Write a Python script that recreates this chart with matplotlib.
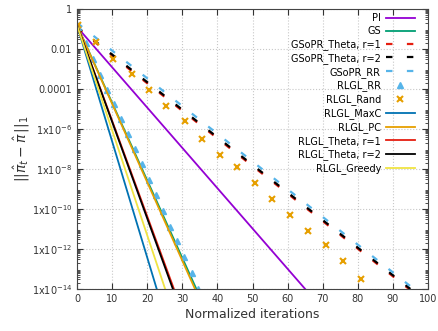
import numpy as np
import matplotlib.pyplot as plt
from matplotlib.ticker import FixedLocator, LogLocator, NullFormatter

# straight lines in log space: (start, end)
pi_x, pi_y = [0, 65], [0.125, 1e-14]
gs_x, gs_y = [0, 34.0], [0.15, 1e-14]
gsopr_t1_x, gsopr_t1_y = [0, 94.6], [0.11, 1e-14]
gsopr_t2_x, gsopr_t2_y = [0, 95.0], [0.125, 1e-14]
gsopr_rr_x, gsopr_rr_y = [0, 96.0], [0.2, 1e-14]
maxc_x, maxc_y = [0, 22.7], [0.15, 1e-14]
pc_x, pc_y = [0, 33.6], [0.15, 1e-14]
theta1_x, theta1_y = [0, 27.6], [0.15, 1e-14]
theta2_x, theta2_y = [0, 27.3], [0.15, 1e-14]
greedy_x, greedy_y = [0, 25.1], [0.15, 1e-14]

# marker series
rr_x = [0.3, 2.4, 4.5, 6.5, 8.5, 10.4, 12.5, 14.5, 16.6, 18.5, 20.5, 22.5,
        24.6, 26.5, 28.6, 30.6, 32.7, 34.6]
rr_log = [-0.9, -1.7, -2.5, -3.3, -4.05, -4.75, -5.5, -6.26, -7.0, -7.77,
          -8.57, -9.3, -10.1, -10.9, -11.6, -12.4, -13.2, -14.0]
rand_x = [0.3, 5.4, 10.3, 15.6, 20.5, 25.4, 30.8, 35.7, 40.7, 45.7, 50.6,
          55.6, 60.7, 65.9, 70.9, 75.9, 81.0]
rand_log = [-0.8, -1.67, -2.5, -3.25, -4.05, -4.85, -5.6, -6.5, -7.3, -7.9,
            -8.7, -9.5, -10.3, -11.1, -11.8, -12.6, -13.5]

ytick_vals = [1, 1e-2, 1e-4, 1e-6, 1e-8, 1e-10, 1e-12, 1e-14]
ytick_labels = ['1', '0.01', '0.0001', r'1x10$^{-6}$', r'1x10$^{-8}$',
                r'1x10$^{-10}$', r'1x10$^{-12}$', r'1x10$^{-14}$']

fig = plt.figure(figsize=(4.38, 3.31), dpi=100)
ax = fig.add_axes([0.176, 0.127, 0.801, 0.846])

dash = (0, (2.9, 6.5))
lw = 1.3
ax.plot(pi_x, pi_y, color='#9400d3', lw=lw, label='PI')
ax.plot(gs_x, gs_y, color='#009e73', lw=lw, label='GS')
ax.plot(gsopr_t1_x, gsopr_t1_y, color='#e51e10', lw=1.6, ls=dash, label='GSoPR_Theta, r=1')
ax.plot(gsopr_t2_x, gsopr_t2_y, color='black', lw=1.6, ls=dash, label='GSoPR_Theta, r=2')
ax.plot(gsopr_rr_x, gsopr_rr_y, color='#56b4e9', lw=1.6, ls=dash, label='GSoPR_RR')
ax.plot(rr_x, 10.0 ** np.array(rr_log), ls='none', marker='^', ms=4,
        color='#56b4e9', label='RLGL_RR')
ax.plot(rand_x, 10.0 ** np.array(rand_log), ls='none', marker='x', ms=4,
        mew=1.5, color='#e69f00', label='RLGL_Rand')
ax.plot(maxc_x, maxc_y, color='#0072b2', lw=lw, label='RLGL_MaxC')
ax.plot(pc_x, pc_y, color='#e69f00', lw=lw, label='RLGL_PC')
ax.plot(theta1_x, theta1_y, color='#e51e10', lw=lw, label='RLGL_Theta, r=1')
ax.plot(theta2_x, theta2_y, color='black', lw=lw, label='RLGL_Theta, r=2')
ax.plot(greedy_x, greedy_y, color='#f0e442', lw=lw, label='RLGL_Greedy')

ax.set_yscale('log')
ax.set_xlim(0, 100)
ax.set_ylim(1e-14, 1)
ax.set_xticks(np.arange(0, 101, 10))
ax.yaxis.set_major_locator(FixedLocator(ytick_vals))
ax.set_yticklabels(ytick_labels)
ax.yaxis.set_minor_locator(LogLocator(base=10, subs=np.arange(2, 10), numticks=50))
ax.yaxis.set_minor_formatter(NullFormatter())
ax.tick_params(which='both', direction='in', top=True, right=True, labelsize=7, colors='#333333')
ax.tick_params(which='major', length=4, width=0.8)
ax.tick_params(which='minor', length=2, width=0.6)
for s in ax.spines.values():
    s.set_color('#444444')
ax.grid(True, which='major', ls=':', color='#c8c8c8', lw=0.8)

ax.set_xlabel('Normalized iterations', fontsize=9, color='#333333', labelpad=3)
ax.set_ylabel(r'$||\hat{\pi}_t - \hat{\pi}\,||_1$', fontsize=10, color='#333333', labelpad=0)

ax.legend(loc='upper right', bbox_to_anchor=(0.963, 0.985), frameon=False,
          markerfirst=False, fontsize=7, handlelength=3.0, handletextpad=0.5,
          labelspacing=0.3, borderpad=0, borderaxespad=0)

fig.savefig('out.png', dpi=100)
